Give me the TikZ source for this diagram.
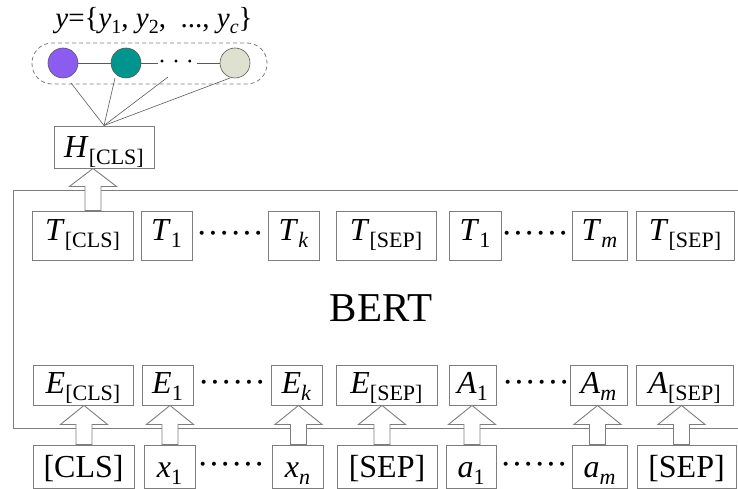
\documentclass[tikz,border=0pt]{standalone}
\usepackage{fontspec}
\setmainfont{Liberation Serif}
\usetikzlibrary{calc}
\definecolor{lgray}{RGB}{125,125,125}
\definecolor{dgray}{RGB}{90,90,90}
\definecolor{cpurple}{RGB}{140,92,240}
\definecolor{cteal}{RGB}{0,148,142}
\definecolor{clight}{RGB}{222,224,208}
\newcommand\lbl[2]{\textit{#1}\raisebox{-0.22em}{\fontsize{22}{22}\selectfont #2}}
\newcommand\tsb[1]{\raisebox{-0.2em}{\fontsize{20}{20}\selectfont #1}}
\newcommand\blockup[4]{%
\draw[harrow] ($(#1.north)+(#4-8,0)$) -- ($(#1.north |- #2.south)+(#4-8,#3)$)
 -- ($(#1.north |- #2.south)+(#4-23.5,#3)$) -- ($(#1.north |- #2.south)+(#4,0)$)
 -- ($(#1.north |- #2.south)+(#4+23.5,#3)$) -- ($(#1.north |- #2.south)+(#4+8,#3)$)
 -- ($(#1.north)+(#4+8,0)$) -- cycle;}
\begin{document}
\begin{tikzpicture}[x=1pt,y=-1pt,
  bx/.style={draw=lgray, line width=0.9pt, inner sep=0pt, font=\fontsize{32}{32}\selectfont},
  trow/.style={bx, minimum height=49pt, text height=9pt, text depth=0pt},
  erow/.style={bx, minimum height=40pt, text height=16pt, text depth=0pt},
  irow/.style={bx, minimum height=43pt, text height=21pt, text depth=0pt},
  dotsty/.style={anchor=base, inner sep=0pt, font=\fontsize{34}{34}\selectfont},
  harrow/.style={draw=lgray, line width=0.9pt, fill=white},
  fan/.style={draw=dgray, line width=0.6pt},
  ball/.style={circle, draw=dgray, line width=0.6pt, minimum size=30pt, inner sep=0pt},
  link/.style={draw=dgray, line width=0.6pt}]
\useasboundingbox (0,0) rectangle (738,489);

% BERT frame
\draw[lgray, line width=0.9pt] (740,190) -- (13,190) -- (13,428) -- (740,428);
\node[font=\fontsize{41}{41}\selectfont, inner sep=0pt] (bert) at (381,308.5) {BERT};

% T row
\node[trow, minimum width=101pt] (Tcls) at (82.5,235.5) {\lbl{T}{[CLS]}};
\node[trow, minimum width=51pt] (T1) at (166.5,235.5) {\lbl{T}{1}};
\node[dotsty] (dt1) at (230,244) {······};
\node[trow, minimum width=51pt] (Tk) at (293.5,235.5) {\lbl{T}{\textit{k}}};
\node[trow, minimum width=100pt] (Tsep) at (386,235.5) {\lbl{T}{[SEP]}};
\node[trow, minimum width=52pt] (T1b) at (475,235.5) {\lbl{T}{1}};
\node[dotsty] (dt2) at (535,244) {······};
\node[trow, minimum width=55pt] (Tm) at (599.5,235.5) {\lbl{T}{\textit{m}}};
\node[trow, minimum width=98pt] (Tsep2) at (685,235.5) {\lbl{T}{[SEP]}};

% E row
\node[erow, minimum width=100pt] (Ecls) at (83,385) {\lbl{E}{[CLS]}};
\node[erow, minimum width=51pt] (E1) at (167.5,385) {\lbl{E}{1}};
\node[dotsty] (de1) at (232,393.5) {······};
\node[erow, minimum width=51pt] (Ek) at (296.5,385) {\lbl{E}{\textit{k}}};
\node[erow, minimum width=101pt] (Esep) at (386.5,385) {\lbl{E}{[SEP]}};
\node[erow, minimum width=47pt] (A1) at (472.5,385) {\lbl{A}{1}};
\node[dotsty] (de2) at (536,393.5) {······};
\node[erow, minimum width=57pt] (Am) at (598.5,385) {\lbl{A}{\textit{m}}};
\node[erow, minimum width=97pt] (Asep) at (684.5,385) {\lbl{A}{[SEP]}};

% input row
\node[irow, minimum width=101pt] (Xcls) at (83.5,466.5) {[CLS]};
\node[irow, minimum width=51pt] (x1) at (169.5,466.5) {\lbl{x}{1}};
\node[dotsty] (di1) at (231,475) {······};
\node[irow, minimum width=51pt] (xn) at (297.5,466.5) {\lbl{x}{\textit{n}}};
\node[irow, minimum width=100pt] (Xsep) at (387,466.5) {[SEP]};
\node[irow, minimum width=50pt] (a1) at (471,466.5) {\lbl{a}{1}};
\node[dotsty] (di2) at (534,475) {······};
\node[irow, minimum width=55pt] (am) at (599.5,466.5) {\lbl{a}{\textit{m}}};
\node[irow, minimum width=99pt] (Xsep2) at (686.5,466.5) {[SEP]};

% H node
\node[bx, minimum width=100pt, minimum height=42pt, text height=21pt, text depth=0pt] (H) at (104,147) {\lbl{H}{[CLS]}};

% arrows
\blockup{Tcls}{H}{18}{10.5}
\blockup{Xcls}{Ecls}{19}{0.5}
\blockup{x1}{E1}{19}{0.5}
\blockup{xn}{Ek}{19}{1}
\blockup{Xsep}{Esep}{19}{-5}
\blockup{a1}{A1}{19}{1}
\blockup{am}{Am}{19}{-2}
\blockup{Xsep2}{Asep}{19}{-5}

% output classes
\node[font=\fontsize{29}{29}\selectfont, inner sep=0pt] (title) at (154,21)
  {\textit{y}=\{\textit{y}\tsb{1}, \textit{y}\tsb{2},\ \ ..., \textit{y}\tsb{\textit{c}}\}};
\draw[lgray, line width=0.8pt, dash pattern=on 4pt off 3pt, rounded corners=20pt] (32,43) rectangle (267,84);
\node[ball, fill=cpurple] (c1) at (63,63) {};
\node[ball, fill=cteal] (c2) at (126,63) {};
\node[ball, fill=clight] (c3) at (235,63) {};
\node[inner sep=0pt, font=\fontsize{24}{24}\selectfont, anchor=base] (cd) at (176,69.5) {· · ·};
\coordinate (l1) at (158,63);
\coordinate (l2) at (197,63);
\draw[link] (c1) -- (c2);
\draw[link] (c2) -- (l1);
\draw[link] (l2) -- (c3);

\coordinate (f1) at (71,83);
\coordinate (f2) at (115,78);
\coordinate (f3) at (168,77);
\coordinate (f4) at (230,78);
\draw[fan] (H.north) -- (f1);
\draw[fan] (H.north) -- (f2);
\draw[fan] (H.north) -- (f3);
\draw[fan] (H.north) -- (f4);
\end{tikzpicture}
\end{document}
